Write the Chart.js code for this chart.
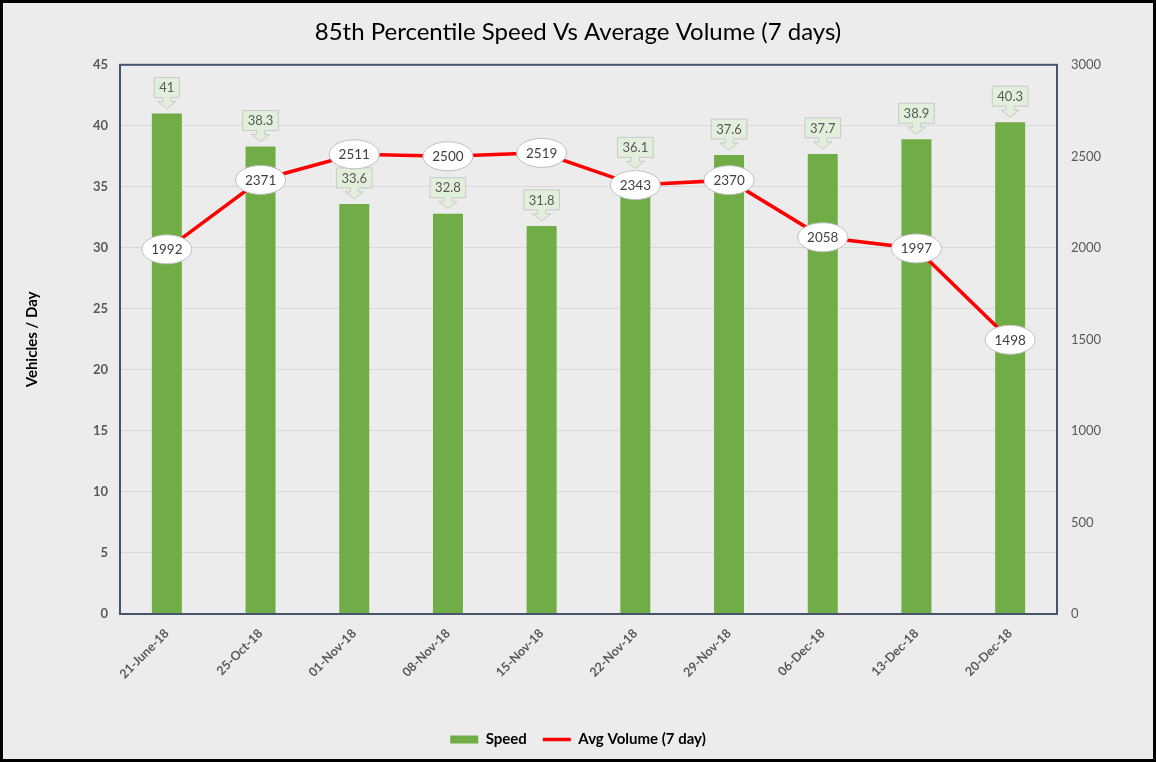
<!DOCTYPE html>
<html>
<head>
<meta charset="utf-8">
<script src="https://cdn.jsdelivr.net/npm/chart.js@4.4.1/dist/chart.umd.min.js"></script>
<style>
  html, body { margin: 0; padding: 0; background: #ececec; }
  #wrap { position: relative; width: 1156px; height: 762px; }
</style>
</head>
<body>
<div id="wrap"><canvas id="c"></canvas></div>
<script>
const categories = ['21-June-18', '25-Oct-18', '01-Nov-18', '08-Nov-18', '15-Nov-18', '22-Nov-18', '29-Nov-18', '06-Dec-18', '13-Dec-18', '20-Dec-18'];
const speedValues = [41, 38.3, 33.6, 32.8, 31.8, 36.1, 37.6, 37.7, 38.9, 40.3];
const volumeValues = [1992, 2371, 2511, 2500, 2519, 2343, 2370, 2058, 1997, 1498];
const leftTicks = [0, 5, 10, 15, 20, 25, 30, 35, 40, 45];
const rightTicks = [0, 500, 1000, 1500, 2000, 2500, 3000];

const FONT = 'Lato, "Open Sans", sans-serif';

const framePlugin = {
  id: 'frame',
  beforeDraw(chart) {
    const ctx = chart.ctx;
    ctx.save();
    ctx.fillStyle = '#ececec';
    ctx.fillRect(0, 0, chart.width, chart.height);
    ctx.restore();
  },
  afterDraw(chart) {
    const ctx = chart.ctx;
    const a = chart.chartArea;
    ctx.save();
    ctx.strokeStyle = '#44546a';
    ctx.lineWidth = 2;
    ctx.strokeRect(a.left, a.top, a.right - a.left, a.bottom - a.top);
    ctx.strokeStyle = '#000';
    ctx.lineWidth = 3;
    ctx.strokeRect(1.5, 1.5, chart.width - 3, chart.height - 3);
    ctx.restore();
  }
};

const labelPlugin = {
  id: 'callouts',
  afterDatasetsDraw(chart) {
    const ctx = chart.ctx;
    ctx.save();
    ctx.font = '13px ' + FONT;
    ctx.textAlign = 'center';
    ctx.textBaseline = 'middle';
    const barMeta = chart.getDatasetMeta(0);
    barMeta.data.forEach((el, i) => {
      const txt = String(speedValues[i]);
      const tw = ctx.measureText(txt).width;
      const w = Math.max(tw + 10, 24);
      const h = 20;
      const x = el.x;
      const tip = el.y - 5;
      const headTop = tip - 7;
      const boxBottom = headTop - 4;
      const boxTop = boxBottom - h;
      ctx.beginPath();
      ctx.moveTo(x - w / 2, boxTop);
      ctx.lineTo(x + w / 2, boxTop);
      ctx.lineTo(x + w / 2, boxBottom);
      ctx.lineTo(x + 4, boxBottom);
      ctx.lineTo(x + 4, headTop);
      ctx.lineTo(x + 9, headTop);
      ctx.lineTo(x, tip);
      ctx.lineTo(x - 9, headTop);
      ctx.lineTo(x - 4, headTop);
      ctx.lineTo(x - 4, boxBottom);
      ctx.lineTo(x - w / 2, boxBottom);
      ctx.closePath();
      ctx.fillStyle = '#e2efda';
      ctx.fill();
      ctx.strokeStyle = '#c8c8c8';
      ctx.lineWidth = 1;
      ctx.stroke();
      ctx.fillStyle = '#595959';
      ctx.fillText(txt, x, (boxTop + boxBottom) / 2 + 0.5);
    });
    const lineMeta = chart.getDatasetMeta(1);
    ctx.font = '13.5px ' + FONT;
    lineMeta.data.forEach((el, i) => {
      const txt = String(volumeValues[i]);
      ctx.beginPath();
      ctx.ellipse(el.x, el.y, 25, 14.5, 0, 0, Math.PI * 2);
      ctx.fillStyle = '#ffffff';
      ctx.fill();
      ctx.strokeStyle = '#bfbfbf';
      ctx.lineWidth = 1;
      ctx.stroke();
      ctx.fillStyle = '#404040';
      ctx.fillText(txt, el.x, el.y + 0.5);
    });
    ctx.restore();
  }
};

new Chart(document.getElementById('c'), {
  data: {
    labels: categories,
    datasets: [
      {
        type: 'bar',
        label: 'Speed',
        data: speedValues,
        yAxisID: 'y',
        backgroundColor: '#70ad47',
        borderWidth: 0,
        barPercentage: 0.32,
        categoryPercentage: 1.0,
        pointStyle: 'rect',
        order: 2
      },
      {
        type: 'line',
        label: 'Avg Volume (7 day)',
        data: volumeValues,
        yAxisID: 'y1',
        borderColor: '#ff0000',
        backgroundColor: '#ff0000',
        borderWidth: 3.5,
        pointRadius: 0,
        tension: 0,
        pointStyle: 'line',
        order: 1
      }
    ]
  },
  options: {
    responsive: true,
    maintainAspectRatio: false,
    animation: false,
    layout: { padding: { left: 0, right: 0, top: 0, bottom: 5 } },
    plugins: {
      title: {
        display: true,
        text: '85th Percentile Speed Vs Average Volume (7 days)',
        color: '#000',
        font: { family: FONT, size: 24, weight: 'normal' },
        padding: { top: 18, bottom: 18 }
      },
      legend: {
        position: 'bottom',
        labels: {
          usePointStyle: true,
          pointStyleWidth: 28,
          boxHeight: 8,
          color: '#000',
          font: { family: FONT, size: 15, weight: 'bold' },
          padding: 16,
          sort: (a, b) => a.datasetIndex - b.datasetIndex
        }
      },
      tooltip: { enabled: false }
    },
    scales: {
      x: {
        grid: { display: false },
        border: { display: false },
        ticks: {
          color: '#595959',
          font: { family: FONT, size: 12.5, weight: 'bold' },
          maxRotation: 45,
          minRotation: 45,
          padding: 4
        },
        afterFit(scale) { scale.height = 102; }
      },
      y: {
        position: 'left',
        min: 0, max: 45,
        afterBuildTicks(scale) { scale.ticks = leftTicks.map(v => ({ value: v })); },
        grid: { color: '#d9d9d9', lineWidth: 1, drawTicks: false },
        border: { display: false },
        ticks: {
          color: '#595959',
          font: { family: FONT, size: 13, weight: 'bold' },
          padding: 12
        },
        title: {
          display: true,
          text: 'Vehicles / Day',
          color: '#000',
          font: { family: FONT, size: 15, weight: 'bold' },
          padding: { top: 23, bottom: 0 }
        },
        afterFit(scale) { scale.width = 120; }
      },
      y1: {
        position: 'right',
        min: 0, max: 3000,
        afterBuildTicks(scale) { scale.ticks = rightTicks.map(v => ({ value: v })); },
        grid: { display: false, drawTicks: false },
        border: { display: false },
        ticks: {
          color: '#595959',
          font: { family: FONT, size: 13, weight: 'normal' },
          padding: 14,
          callback: (v) => String(v)
        },
        afterFit(scale) { scale.width = 99; }
      }
    }
  },
  plugins: [framePlugin, labelPlugin]
});
</script>
</body>
</html>
